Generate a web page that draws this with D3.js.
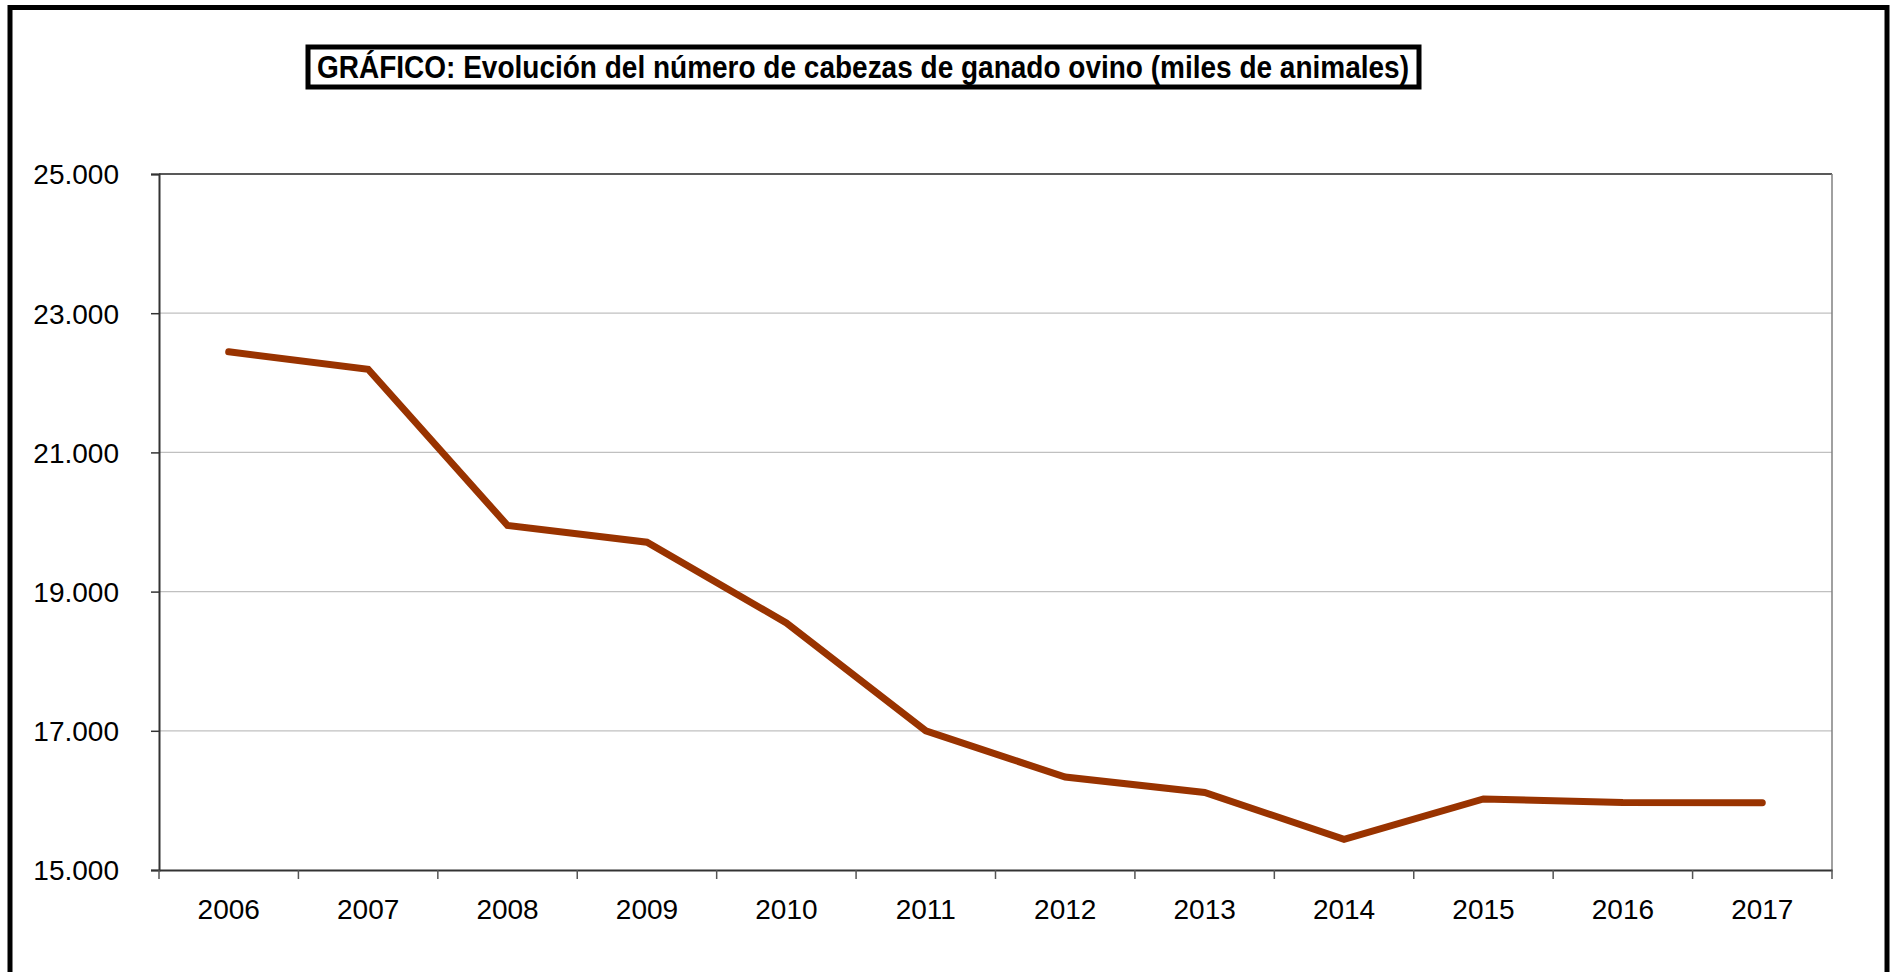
<!DOCTYPE html>
<html>
<head>
<meta charset="utf-8" />
<title>Ganado ovino</title>
<script type="text/javascript" src="https://d3js.org/d3.v7.min.js"></script>
<style type="text/css">
    body { margin: 0; background: #fff; }
    svg text { font-family: "Liberation Sans", Arial, sans-serif; fill: #000; }
</style>
</head>
<body>
<svg width="1891" height="972"></svg>
<script>
    var years = ["2006", "2007", "2008", "2009", "2010", "2011", "2012", "2013", "2014", "2015", "2016", "2017"];
    var heads = [22445, 22195, 19950, 19710, 18550, 17000, 16335, 16115, 15440, 16020, 15970, 15965];
    var yTicks = [15000, 17000, 19000, 21000, 23000, 25000];
    var title = "GRÁFICO: Evolución del número de cabezas de ganado ovino (miles de animales)";

    var svg = d3.select("svg");

    // outer frame (bottom edge runs off the page)
    svg.append("rect")
        .attr("x", 10).attr("y", 7.5)
        .attr("width", 1877).attr("height", 1000)
        .attr("fill", "none").attr("stroke", "#000").attr("stroke-width", 5);

    // title box
    svg.append("rect")
        .attr("x", 308).attr("y", 47)
        .attr("width", 1111).attr("height", 40)
        .attr("fill", "#fff").attr("stroke", "#000").attr("stroke-width", 5);
    svg.append("text")
        .attr("x", 317).attr("y", 78)
        .attr("font-size", 32).attr("font-weight", "bold")
        .attr("textLength", 1092).attr("lengthAdjust", "spacingAndGlyphs")
        .text(title);

    // plot area bounds
    var pLeft = 159, pRight = 1832, pTop = 174, pBottom = 870;

    var x = d3.scaleBand().domain(years).range([pLeft, pRight]);
    var y = d3.scaleLinear().domain([15000, 25000]).range([pBottom, pTop]);

    // gridlines
    svg.append("g").selectAll("line")
        .data(yTicks.slice(1, -1))
        .enter().append("line")
        .attr("x1", pLeft).attr("x2", pRight)
        .attr("y1", d => y(d)).attr("y2", d => y(d))
        .attr("stroke", "#c0c0c0").attr("stroke-width", 1.2);

    // plot frame: top dark, right gray
    svg.append("line")
        .attr("x1", pLeft).attr("x2", pRight).attr("y1", pTop).attr("y2", pTop)
        .attr("stroke", "#222").attr("stroke-width", 1.5);
    svg.append("line")
        .attr("x1", pRight).attr("x2", pRight).attr("y1", pTop).attr("y2", pBottom)
        .attr("stroke", "#808080").attr("stroke-width", 1.5);

    var fmt = d => d3.format(",")(d).replace(/,/g, ".");

    // y axis
    var yAxis = svg.append("g")
        .attr("transform", "translate(" + pLeft + ",0)")
        .call(d3.axisLeft(y).tickValues(yTicks).tickFormat(fmt).tickSize(8).tickPadding(32));
    yAxis.select(".domain").attr("stroke", "#333").attr("stroke-width", 2);
    yAxis.selectAll(".tick line").attr("stroke", "#333").attr("stroke-width", 1.5);
    yAxis.selectAll("text").attr("font-size", 28).attr("dy", "0.35em")
        .style("font-family", "'Liberation Sans', Arial, sans-serif").attr("fill", "#000");

    // x axis with ticks at band boundaries
    var xAxis = svg.append("g")
        .attr("transform", "translate(0," + pBottom + ")")
        .call(d3.axisBottom(x).tickSize(0).tickPadding(29));
    xAxis.select(".domain").attr("stroke", "#333").attr("stroke-width", 2);
    xAxis.selectAll("text").attr("font-size", 28).attr("dy", "0.71em")
        .style("font-family", "'Liberation Sans', Arial, sans-serif").attr("fill", "#000");
    xAxis.selectAll(".boundary")
        .data(years.concat(["end"]))
        .enter().append("line")
        .attr("x1", (d, i) => pLeft + i * x.bandwidth())
        .attr("x2", (d, i) => pLeft + i * x.bandwidth())
        .attr("y1", 0).attr("y2", 9)
        .attr("stroke", "#555").attr("stroke-width", 1.5);

    // series line
    var line = d3.line()
        .x((d, i) => x(years[i]) + x.bandwidth() / 2)
        .y(d => y(d));
    svg.append("path")
        .datum(heads)
        .attr("d", line)
        .attr("fill", "none")
        .attr("stroke", "#993300")
        .attr("stroke-width", 7)
        .attr("stroke-linecap", "round")
        .attr("stroke-linejoin", "miter");
</script>
</body>
</html>
